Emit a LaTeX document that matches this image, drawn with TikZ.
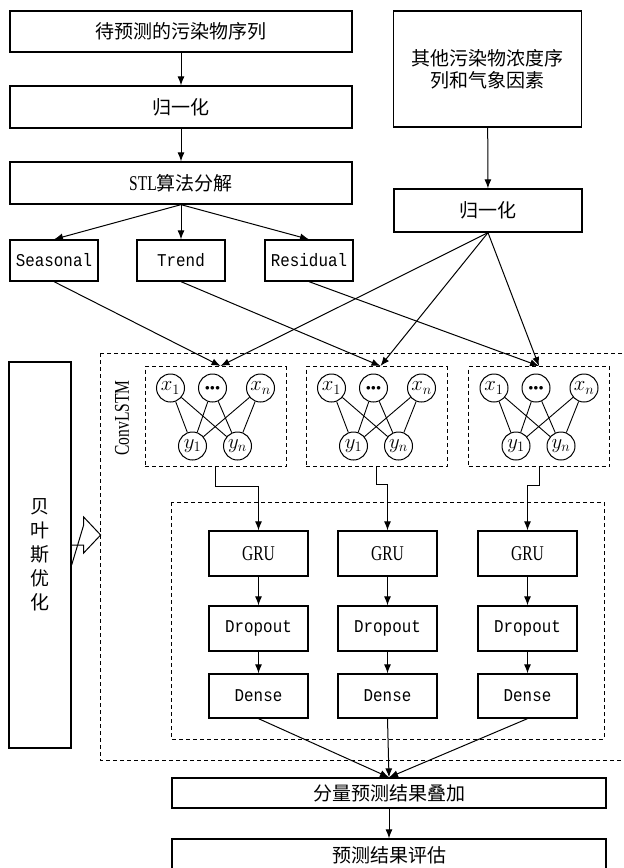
\documentclass[tikz,border=0pt]{standalone}
\usepackage{fontspec}
\newfontfamily\cjk{Noto Sans CJK SC}
\newfontfamily\codefont[FakeStretch=0.88]{Liberation Mono}
\newfontfamily\narrowfont[FakeStretch=0.74]{Liberation Serif}
\usetikzlibrary{arrows.meta}

\begin{document}
\begin{tikzpicture}[x=1pt, y=-1pt,
    boxStyle/.style={draw, line width=1.3pt, inner sep=0pt, align=center, font=\cjk\fontsize{19}{22}\selectfont},
    codeStyle/.style={boxStyle, font=\codefont\fontsize{18}{20}\selectfont},
    layerStyle/.style={boxStyle, minimum width=99pt, minimum height=45pt},
    neuronStyle/.style={circle, draw, line width=1pt, minimum size=28pt, inner sep=0pt, font=\fontsize{20}{20}\selectfont},
    dashStyle/.style={draw, line width=1pt, dash pattern=on 4pt off 3pt},
    arrowStyle/.style={line width=1pt, -{Latex[length=9pt, width=7pt]}},
    lineStyle/.style={line width=0.9pt}]
    \useasboundingbox (0,0) rectangle (624,868);

    % left column
    \node[boxStyle, minimum width=342pt, minimum height=41pt](seq) at (181, 31.5) {待预测的污染物序列};
    \node[boxStyle, minimum width=342pt, minimum height=42pt](norm1) at (181, 107) {归一化};
    \node[boxStyle, minimum width=342pt, minimum height=42pt](stl) at (181, 183) {{\narrowfont\fontsize{21}{22}\selectfont STL}算法分解};
    \node[codeStyle, minimum width=88pt, minimum height=41pt](seas) at (54, 260.5) {Seasonal};
    \node[codeStyle, minimum width=88pt, minimum height=41pt](trend) at (181, 260.5) {Trend};
    \node[codeStyle, minimum width=88pt, minimum height=41pt](resid) at (309, 260.5) {Residual};

    % right column
    \node[boxStyle, minimum width=188pt, minimum height=116pt](other) at (487.5, 69) {其他污染物浓度序\\列和气象因素};
    \node[boxStyle, minimum width=188pt, minimum height=43pt](norm2) at (488, 210.5) {归一化};

    \draw[arrowStyle] (seq) -- (norm1);
    \draw[arrowStyle] (norm1) -- (stl);
    \draw[arrowStyle] (other) -- (norm2);
    \draw[arrowStyle] (stl.south) -- (seas.north);
    \draw[arrowStyle] (stl.south) -- (trend.north);
    \draw[arrowStyle] (stl.south) -- (resid.north);

    % bayes
    \node[boxStyle, minimum width=62pt, minimum height=386pt, font=\cjk\fontsize{19}{24}\selectfont](bayes) at (40, 555) {贝\\叶\\斯\\优\\化};
    \draw[line width=1pt] ([yshift=10pt]bayes.east) -- ++(12,0) -- ++(0,8) -- ++(17,-18) -- ++(-17,-18) -- ++(0,8) -- ([yshift=-10pt]bayes.east);

    % ConvLSTM part
    \draw[dashStyle] (100,353) rectangle (640,760);
    \node[rotate=90, font=\narrowfont\fontsize{21}{21}\selectfont](convlabel) at (122, 418) {ConvLSTM};
    \node[dashStyle, minimum width=141pt, minimum height=100pt](conva) at (215.5, 416.5) {};
    \node[dashStyle, minimum width=141pt, minimum height=100pt](convb) at (376.5, 416.5) {};
    \node[dashStyle, minimum width=141pt, minimum height=100pt](convc) at (539, 416.5) {};

    \node[neuronStyle](xa1) at (170.5, 388) {$x_1$};
    \node[neuronStyle](da) at (212.5, 388) {\fontsize{9}{9}\selectfont$\bullet\!\bullet\!\bullet$};
    \node[neuronStyle](xan) at (260.5, 388) {$x_n$};
    \node[neuronStyle](ya1) at (192.5, 446) {$y_1$};
    \node[neuronStyle](yan) at (237.5, 446) {$y_n$};

    \node[neuronStyle](xb1) at (331.5, 388) {$x_1$};
    \node[neuronStyle](db) at (373.5, 388) {\fontsize{9}{9}\selectfont$\bullet\!\bullet\!\bullet$};
    \node[neuronStyle](xbn) at (421.5, 388) {$x_n$};
    \node[neuronStyle](yb1) at (353.5, 446) {$y_1$};
    \node[neuronStyle](ybn) at (398.5, 446) {$y_n$};

    \node[neuronStyle](xc1) at (494, 388) {$x_1$};
    \node[neuronStyle](dc) at (536, 388) {\fontsize{9}{9}\selectfont$\bullet\!\bullet\!\bullet$};
    \node[neuronStyle](xcn) at (584, 388) {$x_n$};
    \node[neuronStyle](yc1) at (516, 446) {$y_1$};
    \node[neuronStyle](ycn) at (561, 446) {$y_n$};

    \draw[lineStyle] (xa1) -- (ya1);
    \draw[lineStyle] (xa1) -- (yan);
    \draw[lineStyle] (da) -- (ya1);
    \draw[lineStyle] (da) -- (yan);
    \draw[lineStyle] (xan) -- (ya1);
    \draw[lineStyle] (xan) -- (yan);

    \draw[lineStyle] (xb1) -- (yb1);
    \draw[lineStyle] (xb1) -- (ybn);
    \draw[lineStyle] (db) -- (yb1);
    \draw[lineStyle] (db) -- (ybn);
    \draw[lineStyle] (xbn) -- (yb1);
    \draw[lineStyle] (xbn) -- (ybn);

    \draw[lineStyle] (xc1) -- (yc1);
    \draw[lineStyle] (xc1) -- (ycn);
    \draw[lineStyle] (dc) -- (yc1);
    \draw[lineStyle] (dc) -- (ycn);
    \draw[lineStyle] (xcn) -- (yc1);
    \draw[lineStyle] (xcn) -- (ycn);

    \draw[arrowStyle] (seas.south) -- ([xshift=5pt]conva.north);
    \draw[arrowStyle] (trend.south) -- ([xshift=4pt]convb.north);
    \draw[arrowStyle] (resid.south) -- (convc.north);
    \draw[arrowStyle] (norm2.south) -- ([xshift=5pt]conva.north);
    \draw[arrowStyle] (norm2.south) -- ([xshift=4pt]convb.north);
    \draw[arrowStyle] (norm2.south) -- (convc.north);

    % GRU part
    \draw[dashStyle] (171,502) rectangle (604,739);
    \node[layerStyle, font=\narrowfont\fontsize{21}{21}\selectfont](grua) at (258.5, 553.5) {GRU};
    \node[layerStyle, font=\narrowfont\fontsize{21}{21}\selectfont](grub) at (387.5, 553.5) {GRU};
    \node[layerStyle, font=\narrowfont\fontsize{21}{21}\selectfont](gruc) at (527.5, 553.5) {GRU};
    \node[layerStyle, codeStyle](dropa) at (258.5, 628.5) {Dropout};
    \node[layerStyle, codeStyle](dropb) at (387.5, 628.5) {Dropout};
    \node[layerStyle, codeStyle](dropc) at (527.5, 628.5) {Dropout};
    \node[layerStyle, codeStyle, minimum height=44pt](densea) at (258.5, 696) {Dense};
    \node[layerStyle, codeStyle, minimum height=44pt](denseb) at (387.5, 696) {Dense};
    \node[layerStyle, codeStyle, minimum height=44pt](densec) at (527.5, 696) {Dense};

    \draw[arrowStyle] (conva.south) -- ++(0,19) -| (grua.north);
    \draw[arrowStyle] (convb.south) -- ++(0,17) -| (grub.north);
    \draw[arrowStyle] (convc.south) -- ++(0,18) -| (gruc.north);
    \draw[arrowStyle] (grua) -- (dropa);
    \draw[arrowStyle] (grub) -- (dropb);
    \draw[arrowStyle] (gruc) -- (dropc);
    \draw[arrowStyle] (dropa) -- (densea);
    \draw[arrowStyle] (dropb) -- (denseb);
    \draw[arrowStyle] (dropc) -- (densec);

    % output
    \node[boxStyle, minimum width=434pt, minimum height=30pt](sum) at (389, 793) {分量预测结果叠加};
    \node[boxStyle, minimum width=434pt, minimum height=32pt](eval) at (389, 855) {预测结果评估};

    \draw[arrowStyle] (densea.south) -- (sum.north);
    \draw[arrowStyle] (denseb.south) -- (sum.north);
    \draw[arrowStyle] (densec.south) -- (sum.north);
    \draw[arrowStyle] (sum) -- (eval);
\end{tikzpicture}
\end{document}
